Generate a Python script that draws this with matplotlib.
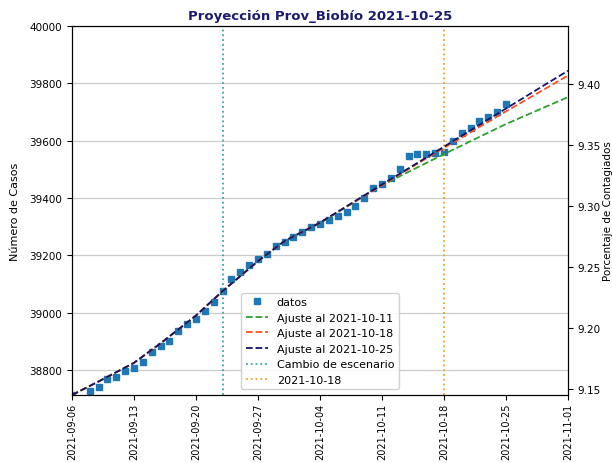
import pandas as pd
import matplotlib
matplotlib.use('Agg')
import matplotlib.pyplot as plt
import matplotlib.dates as mdates

# datos observados (casos acumulados)
fechas_datos = pd.to_datetime(['2021-09-06'] + [f'2021-09-{d:02d}' for d in range(8, 31)] +
                              [f'2021-10-{d:02d}' for d in range(1, 26)])
casos = [38713, 38728, 38742, 38767, 38777, 38798, 38808, 38829, 38864, 38885,
         38902, 38937, 38962, 38979, 39005, 39037, 39074, 39118, 39142, 39167,
         39188, 39206, 39234, 39246, 39264, 39281, 39298, 39310, 39322, 39337,
         39352, 39372, 39399, 39434, 39449, 39469, 39500, 39545, 39552, 39555,
         39557, 39561, 39600, 39628, 39645, 39670, 39684, 39700, 39728]

# curvas de ajuste
fechas_ajuste = pd.to_datetime(['2021-09-06', '2021-09-09', '2021-09-13', '2021-09-16',
                                '2021-09-20', '2021-09-23', '2021-09-27', '2021-09-30',
                                '2021-10-04', '2021-10-11', '2021-10-18', '2021-10-25',
                                '2021-11-01'])
ajuste_1011 = [38713, 38760, 38825, 38893, 38990, 39075, 39180, 39250, 39312, 39445, 39553, 39658, 39752]
ajuste_1018 = [38713, 38760, 38825, 38893, 38990, 39075, 39180, 39250, 39314, 39445, 39575, 39702, 39827]
ajuste_1025 = [38713, 38760, 38825, 38893, 38990, 39075, 39180, 39250, 39314, 39447, 39579, 39712, 39844]

cambio_escenario = pd.Timestamp('2021-09-23')
fecha_corte = pd.Timestamp('2021-10-18')
ticks_x = pd.date_range('2021-09-06', '2021-11-01', freq='7D')
ticks_pct = [9.15, 9.20, 9.25, 9.30, 9.35, 9.40]

fig = plt.figure(figsize=(6.12, 4.64), dpi=100)
ax = fig.add_axes([0.1176, 0.1466, 0.8104, 0.7952])

ax.plot(fechas_datos, casos, 's', color='#1f77b4', markersize=4.5, label='datos', zorder=2)
ax.plot(fechas_ajuste, ajuste_1011, '--', color='#2ca02c', lw=1.3, label='Ajuste al 2021-10-11', zorder=3)
ax.plot(fechas_ajuste, ajuste_1018, '--', color='#ff4f1f', lw=1.3, label='Ajuste al 2021-10-18', zorder=3)
ax.plot(fechas_ajuste, ajuste_1025, '--', color='#14146e', lw=1.3, label='Ajuste al 2021-10-25', zorder=4)
ax.axvline(cambio_escenario, ls=':', color='#3aa6a0', lw=1.3, label='Cambio de escenario')
ax.axvline(fecha_corte, ls=':', color='#f0a020', lw=1.3, label='2021-10-18')

ax.set_xlim(ticks_x[0], ticks_x[-1])
ax.set_ylim(38713, 40000)
ax.set_xticks(ticks_x)
ax.xaxis.set_major_formatter(mdates.DateFormatter('%Y-%m-%d'))
plt.setp(ax.get_xticklabels(), rotation=90, fontsize=7)
ax.tick_params(axis='x', pad=2)
ax.tick_params(axis='y', labelsize=7.5)
ax.yaxis.grid(True, color='#cccccc', lw=0.9)
ax.set_ylabel('Número de Casos', fontsize=8)
ax.yaxis.set_label_coords(-0.105, 0.5)
ax.set_title('Proyección Prov_Biobío 2021-10-25', fontsize=9.5, fontweight='bold', color='#1c1c6e', pad=5)

ax.legend(loc='lower center', fontsize=8, framealpha=0.9)

ax2 = ax.twinx()
ax2.set_ylim(9.1451, 9.4475)
ax2.set_yticks(ticks_pct)
ax2.set_yticklabels([f'{t:.2f}' for t in ticks_pct])
ax2.tick_params(axis='y', labelsize=7.5)
ax2.set_ylabel('Porcentaje de Contagiados', fontsize=7.5)
ax2.yaxis.set_label_coords(1.07, 0.5)

fig.savefig('out.png', dpi=100)
